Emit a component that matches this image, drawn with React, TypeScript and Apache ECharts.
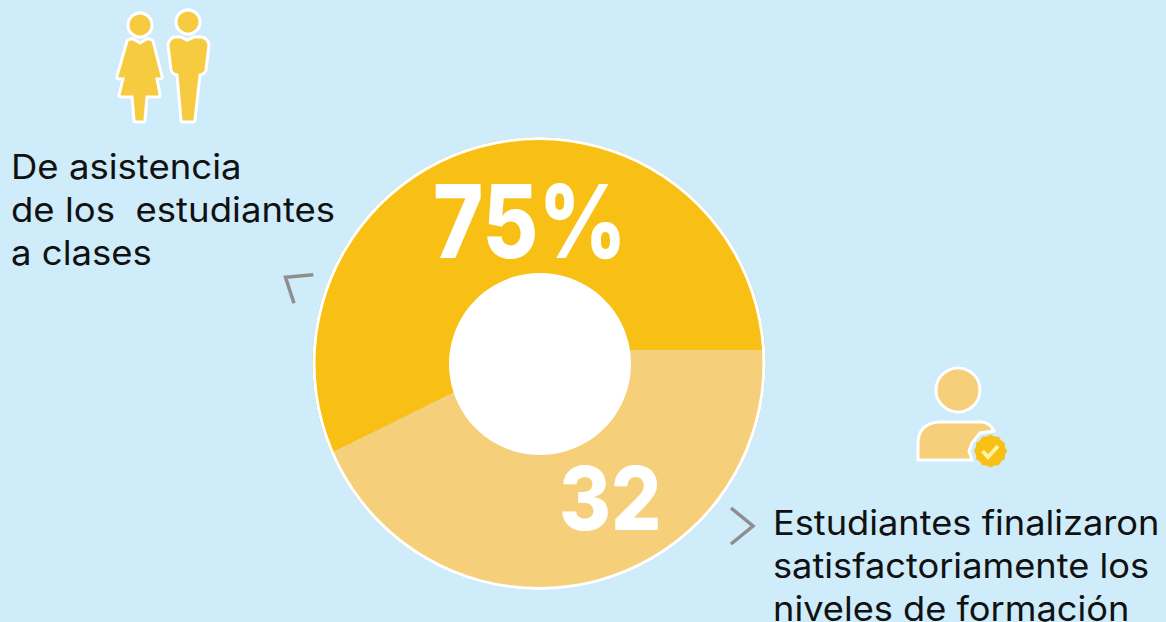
import React, { useEffect, useRef } from "react";
import * as echarts from "echarts";

const sliceNames = ["Asistencia", "Finalizaron"];
const sliceValues = [57.3, 42.7];
const sliceColors = ["#F8C014", "#F6CF7B"];
const bigLabels = ["75%", "32"];
const leftLines = ["De asistencia", "de los  estudiantes", "a clases"];
const rightLines = ["Estudiantes finalizaron", "satisfactoriamente los", "niveles de formación"];

const WOMAN =
  "M140 43 L147 39 Q151 38 153 41 L162 76 Q163 79 160 79 L157 79 L160 95 Q160 97 158 97 L147 97 L145 120 Q145 122 143 122 L136 122 Q134 122 134 120 L132 97 L121 97 Q119 97 119 95 L123 79 L119 79 Q116 79 117 76 L127 41 Q129 38 133 39 Z";
const MAN =
  "M187 40 L194 37 L201 37 Q208 38 209 45 L206 70 Q205 74 200 75 L195 120 Q195 122 192 122 L183 122 Q181 122 181 120 L177 75 Q172 74 171 70 L168 45 Q169 38 175 37 L181 37 Z";
const PERSON_BODY =
  "M918 460 L918 442 Q919 424 938 422 L982 422 Q990 423 994 431 L980 433 L972 443 L969 451 L972 460 Z";

echarts.graphic.registerShape("woman", echarts.graphic.extendPath(WOMAN, {}));
echarts.graphic.registerShape("man", echarts.graphic.extendPath(MAN, {}));
echarts.graphic.registerShape("personBody", echarts.graphic.extendPath(PERSON_BODY, {}));

const FONT = "Inter, 'Open Sans', sans-serif";
const ICON = "#F7CB40";
const BG = "#CFECFB";

function badgePoints(cx: number, cy: number): number[][] {
  const pts: number[][] = [];
  for (let i = 0; i < 24; i++) {
    const r = i % 2 ? 15 : 16.5;
    const a = (i / 24) * Math.PI * 2;
    pts.push([cx + r * Math.cos(a), cy + r * Math.sin(a)]);
  }
  return pts;
}

export default function App() {
  const ref = useRef<HTMLDivElement>(null);
  useEffect(() => {
    const chart = echarts.init(ref.current!, null, { renderer: "svg" });
    const text = (t: string, x: number, y: number, size: number, color: string, weight: any = 400, scaleX = 1) => ({
      type: "text",
      x,
      y,
      scaleX,
      silent: true,
      z: 10,
      style: { text: t, fill: color, font: `${weight} ${size}px ${FONT}`, align: "left", verticalAlign: "middle" },
    });
    chart.setOption({
      animation: false,
      backgroundColor: BG,
      series: [
        {
          type: "pie",
          silent: true,
          center: [539, 350.5],
          radius: [0, 238],
          startAngle: 0,
          clockwise: false,
          label: { show: false },
          labelLine: { show: false },
          data: sliceNames.map((name, i) => ({ name, value: sliceValues[i], itemStyle: { color: sliceColors[i] } })),
          z: 2,
        },
      ],
      graphic: [
        { type: "ring", z: 3, silent: true, shape: { cx: 539, cy: 363.5, r: 226.5, r0: 223.5 }, style: { fill: "#fff" } },
        { type: "ring", z: 3, silent: true, shape: { cx: 539, cy: 363.5, r: 256, r0: 226.5 }, style: { fill: BG } },
        { type: "circle", z: 3, silent: true, shape: { cx: 540, cy: 364, r: 91 }, style: { fill: "#fff" } },
        { type: "woman", style: { fill: ICON, stroke: "#fff", lineWidth: 3 }, z: 5 },
        { type: "man", style: { fill: ICON, stroke: "#fff", lineWidth: 3 }, z: 5 },
        { type: "circle", shape: { cx: 140, cy: 25, r: 12 }, style: { fill: ICON, stroke: "#fff", lineWidth: 3 }, z: 5 },
        { type: "circle", shape: { cx: 188, cy: 22, r: 12 }, style: { fill: ICON, stroke: "#fff", lineWidth: 3 }, z: 5 },
        { type: "circle", shape: { cx: 958, cy: 390, r: 22 }, style: { fill: "#F6CF7B", stroke: "#fff", lineWidth: 3 }, z: 5 },
        { type: "personBody", style: { fill: "#F6CF7B", stroke: "#fff", lineWidth: 3 }, z: 5 },
        { type: "polygon", shape: { points: badgePoints(990.5, 451) }, style: { fill: "#F8C014" }, z: 6 },
        { type: "polyline", shape: { points: [[982.5, 451], [988, 457], [998, 446]] }, style: { stroke: "#FFF3A0", lineWidth: 4, fill: "none" }, z: 7 },
        { type: "polyline", shape: { points: [[313.3, 274.7], [285.5, 277.3], [294, 303.3]] }, style: { stroke: "#8E8E8E", lineWidth: 3.5, fill: "none" }, z: 5 },
        { type: "polyline", shape: { points: [[731, 508], [753, 526], [731, 544]] }, style: { stroke: "#8E8E8E", lineWidth: 3.5, fill: "none" }, z: 5 },
        text(bigLabels[0], 433, 221, 102, "#fff", 800, 0.84),
        text(bigLabels[1], 559, 498, 88, "#fff", 800, 0.9),
        ...leftLines.map((l, i) => text(l, 11, 167 + i * 43, 34, "#111", 400, 1.075)),
        ...rightLines.map((l, i) => text(l, 773, 522 + i * 43, 34, "#111", 400, 1.065)),
      ],
    });
    return () => chart.dispose();
  }, []);
  return <div ref={ref} style={{ position: "fixed", left: 0, top: 0, width: 1166, height: 622 }} />;
}
